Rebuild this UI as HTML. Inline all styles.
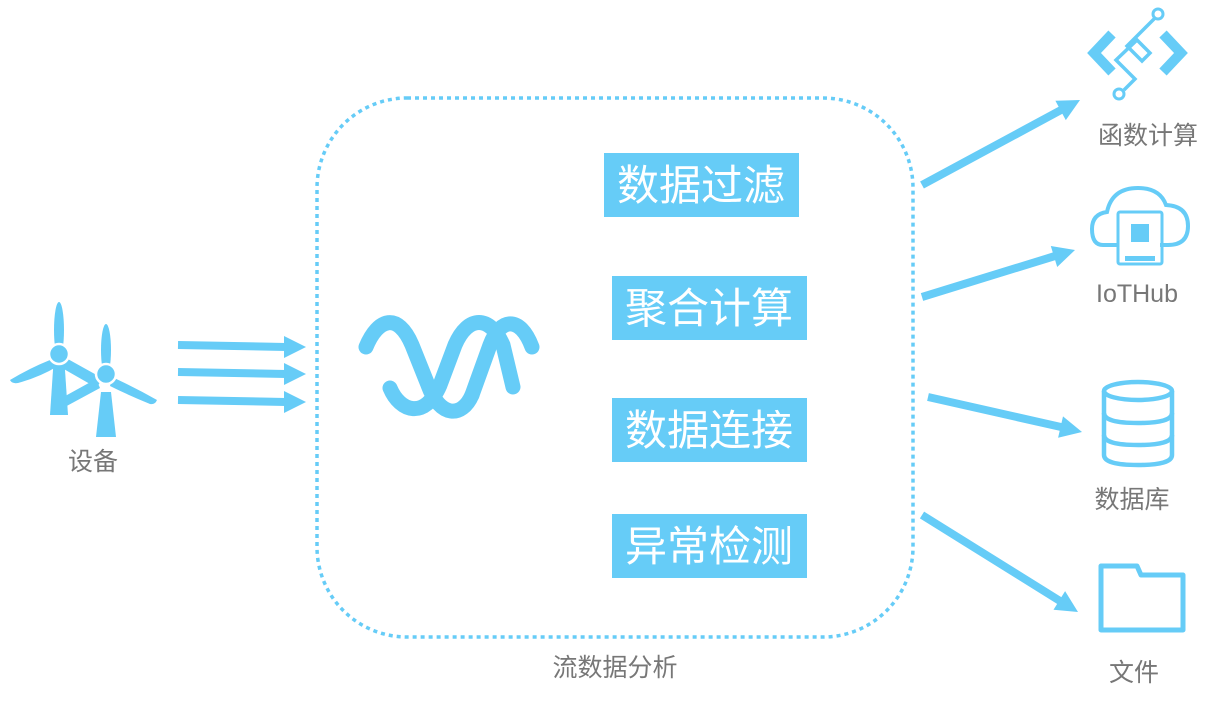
<!DOCTYPE html>
<html><head><meta charset="utf-8"><style>
html,body{margin:0;padding:0;background:#fff;}
svg{display:block}
text{font-family:"Liberation Sans","Noto Sans CJK SC",sans-serif;}
</style></head><body>
<svg width="1219" height="704" viewBox="0 0 1219 704" xmlns="http://www.w3.org/2000/svg">
<!-- dotted container -->
<rect x="317" y="98" width="596" height="539" rx="90" ry="90" fill="none" stroke="#66ccf7" stroke-width="3.5" stroke-dasharray="4 4"/>
<text x="615" y="676" font-size="25" fill="#777" text-anchor="middle">流数据分析</text>

<!-- boxes -->
<g fill="#66ccf7">
<rect x="604" y="153" width="195" height="64"/>
<rect x="612" y="276" width="195" height="64"/>
<rect x="612" y="398" width="195" height="64"/>
<rect x="612" y="514" width="195" height="64"/>
</g>
<g fill="#fff" font-size="42" text-anchor="middle">
<text x="701" y="200">数据过滤</text>
<text x="709" y="323">聚合计算</text>
<text x="709" y="445">数据连接</text>
<text x="709" y="561">异常检测</text>
</g>

<!-- wave symbol -->
<g fill="none" stroke="#66ccf7" stroke-width="15" stroke-linecap="round">
<path d="M366,347 C378,318 398,312 412,345 L428,385 C440,418 462,418 472,395"/>
<path d="M390,388 C400,412 425,420 440,385 L455,345 C468,315 490,315 503,345 L513,387"/>
<path d="M472,395 L490,345 C500,318 520,315 532,347"/>
</g>

<!-- turbines -->
<g fill="#66ccf7">
<path d="M54,355 L64,355 L68,415 L50,415 z"/>
<ellipse cx="59" cy="330" rx="5" ry="28"/>
<path d="M50,360 Q30,368 10,380 Q12,384 18,383 Q40,377 58,366 z"/>
<path d="M66,358 L102,378 L97,388 L62,368 z"/>
<circle cx="59" cy="354" r="9"/>
<path d="M101,392 L111,392 L116,437 L96,437 z"/>
<ellipse cx="106" cy="350" rx="5" ry="26"/>
<path d="M112,377 Q136,388 157,400 Q155,405 150,404 Q128,395 110,386 z"/>
<path d="M96,379 L58,400 L63,408 L100,388 z"/>
<circle cx="106" cy="374" r="9"/>
</g>
<circle cx="59" cy="354" r="10" fill="none" stroke="#fff" stroke-width="2.5"/>
<circle cx="106" cy="374" r="10" fill="none" stroke="#fff" stroke-width="2.5"/>
<text x="93" y="470" font-size="25" fill="#777" text-anchor="middle">设备</text>

<!-- left arrows -->
<g stroke="#66ccf7" stroke-width="8">
<line x1="178" y1="345" x2="286" y2="347"/>
<line x1="178" y1="372" x2="286" y2="374"/>
<line x1="178" y1="400" x2="286" y2="402"/>
</g>
<g fill="#66ccf7">
<polygon points="306,347 284,336 284,358"/>
<polygon points="306,374 284,363 284,385"/>
<polygon points="306,402 284,391 284,413"/>
</g>

<!-- right arrows -->
<g stroke="#66ccf7" stroke-width="8">
<line x1="922" y1="185" x2="1061" y2="110"/>
<line x1="922" y1="297" x2="1055" y2="256"/>
<line x1="928" y1="397" x2="1061" y2="427"/>
<line x1="922" y1="515" x2="1060" y2="601"/>
</g>
<g fill="#66ccf7">
<polygon points="1080,100 1065.8,120.1 1055.4,100.7"/>
<polygon points="1075,250 1057.2,267 1050.8,246"/>
<polygon points="1082,432 1058.1,437.8 1063,416.4"/>
<polygon points="1078,612 1053.5,609.7 1065.1,591.1"/>
</g>

<!-- function icon -->
<g fill="none" stroke="#66ccf7">
<path d="M1112,34 L1094,53 L1112,72" stroke-width="10"/>
<path d="M1163,34 L1181,53 L1163,72" stroke-width="10"/>
<path d="M1155,18 L1127,46 L1142,61 L1150,53 L1137,40 L1116,60 L1135,79 L1124,90" stroke-width="3.5"/>
<circle cx="1158" cy="14" r="5" stroke-width="3"/>
<circle cx="1119" cy="94" r="5" stroke-width="3"/>
</g>
<text x="1148" y="144" font-size="25" fill="#777" text-anchor="middle">函数计算</text>

<!-- iot icon -->
<g fill="none" stroke="#66ccf7" stroke-width="4">
<path d="M1118,245 L1103,245 Q1092,245 1092,229 Q1092,214 1107,212 Q1112,188 1138,188 Q1160,188 1166,205 Q1188,206 1188,226 Q1188,245 1168,245 L1160,245"/>
<rect x="1118" y="212" width="44" height="52" rx="2" stroke-width="3"/>
</g>
<g fill="#66ccf7">
<rect x="1131" y="224" width="18" height="18"/>
<rect x="1125" y="256" width="30" height="5"/>
</g>
<text x="1137" y="302" font-size="25" fill="#777" text-anchor="middle">IoTHub</text>

<!-- db icon -->
<g fill="none" stroke="#66ccf7" stroke-width="4.5">
<ellipse cx="1138" cy="391" rx="34" ry="9"/>
<path d="M1104,391 L1104,455 Q1104,465 1138,465 Q1172,465 1172,455 L1172,391"/>
<path d="M1104,413 Q1104,423 1138,423 Q1172,423 1172,413"/>
<path d="M1104,435 Q1104,445 1138,445 Q1172,445 1172,435"/>
</g>
<text x="1132" y="508" font-size="25" fill="#777" text-anchor="middle">数据库</text>

<!-- folder -->
<path d="M1101,566 L1137,566 L1141,575 L1183,575 L1183,630 L1101,630 z" fill="none" stroke="#66ccf7" stroke-width="5" stroke-linejoin="round"/>
<text x="1134" y="681" font-size="25" fill="#777" text-anchor="middle">文件</text>
</svg>
</body></html>
